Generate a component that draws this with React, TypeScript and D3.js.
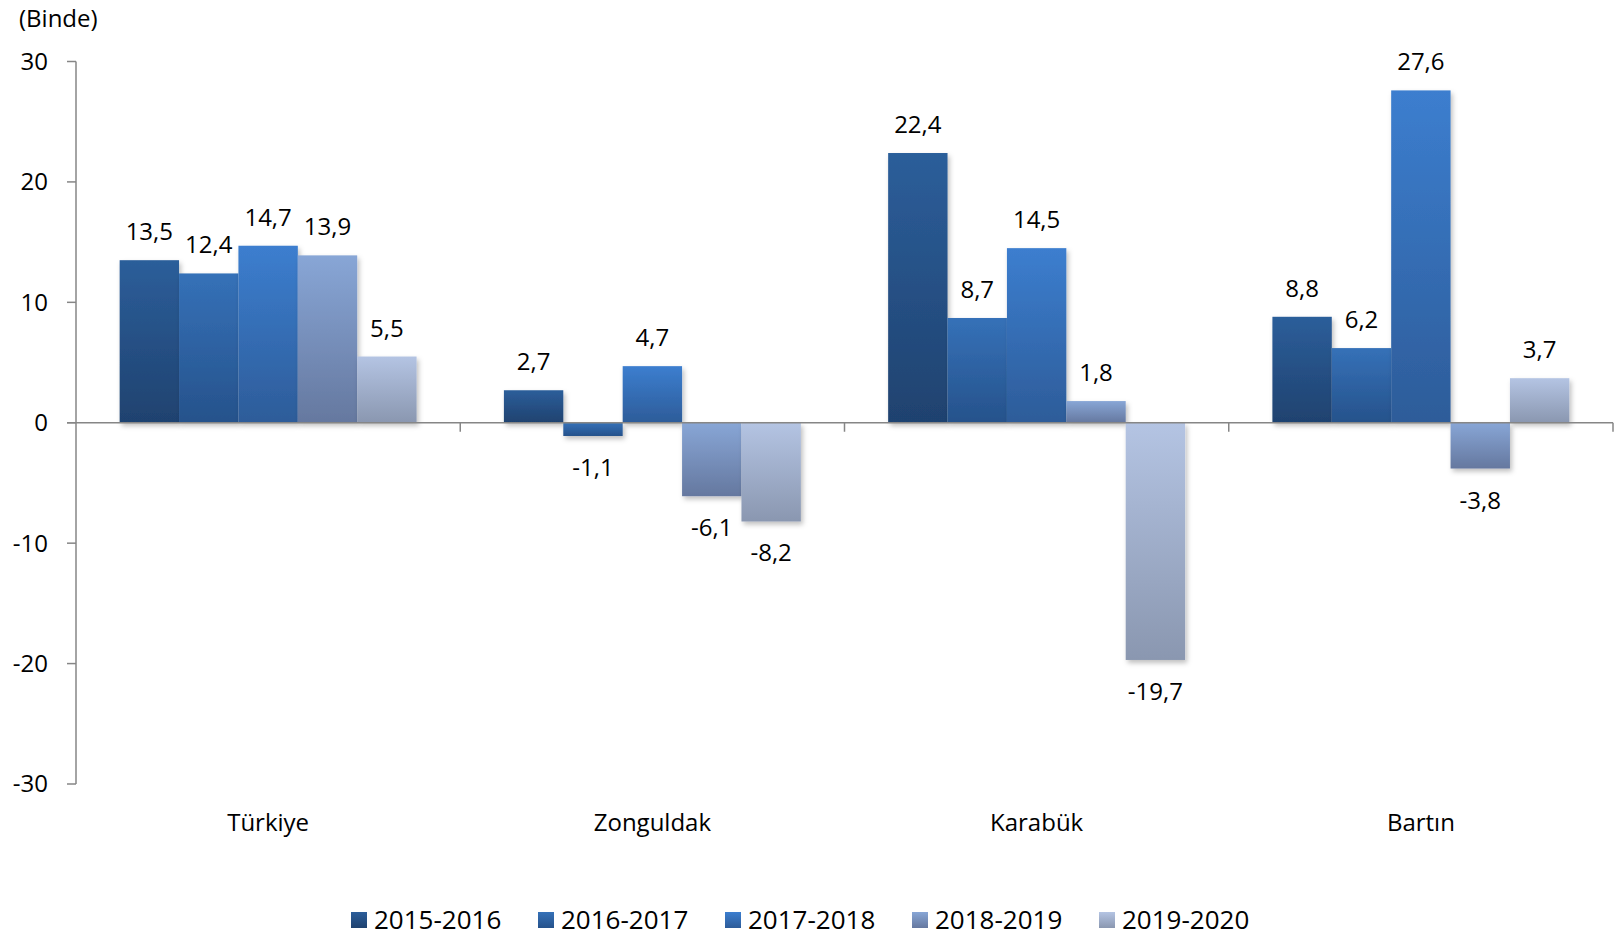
import * as d3 from 'd3'
import { useEffect } from 'react'

const categories = ['Türkiye', 'Zonguldak', 'Karabük', 'Bartın']
const seriesNames = ['2015-2016', '2016-2017', '2017-2018', '2018-2019', '2019-2020']
const v2015 = [13.5, 2.7, 22.4, 8.8]
const v2016 = [12.4, -1.1, 8.7, 6.2]
const v2017 = [14.7, 4.7, 14.5, 27.6]
const v2018 = [13.9, -6.1, 1.8, -3.8]
const v2019 = [5.5, -8.2, -19.7, 3.7]
const yTicks = [-30, -20, -10, 0, 10, 20, 30]

const seriesValues = [v2015, v2016, v2017, v2018, v2019]
// top / bottom colours of each gradient
const grads = [
    ['#2c5e9a', '#1f426f'],
    ['#3571b8', '#26528b'],
    ['#3c7ecf', '#2d5c99'],
    ['#88a6d6', '#65789f'],
    ['#b4c4e3', '#8a97b0'],
]

const W = 1619
const H = 937
const left = 76
const right = 1613
const font = '"Open Sans", "Noto Sans", sans-serif'

const locale = d3.formatLocale({ decimal: ',', thousands: '.', grouping: [3], currency: ['', ''], minus: '-' })
const fmt = locale.format('.1f')

export default function App() {
    useEffect(() => {
        document.body.style.margin = '0'
    }, [])

    const x0 = d3.scaleBand().domain(categories).range([left, right])
    const x1 = d3.scaleBand().domain(seriesNames).range([0, x0.bandwidth()]).paddingInner(0).paddingOuter(0.735)
    const y = d3.scaleLinear().domain([-30, 30]).range([784, 61.5])
    const zero = y(0)

    return (
        <svg width={W} height={H} style={{ display: 'block', fontFamily: font }}>
            <defs>
                {grads.map((g, i) => (
                    <linearGradient key={i} id={'g' + i} x1="0" y1="0" x2="0" y2="1">
                        <stop offset="0" stopColor={g[0]} />
                        <stop offset="1" stopColor={g[1]} />
                    </linearGradient>
                ))}
                <filter id="sh" x="-20%" y="-20%" width="140%" height="140%">
                    <feDropShadow dx="2" dy="3" stdDeviation="2.5" floodColor="#000" floodOpacity="0.25" />
                </filter>
            </defs>

            <text x={19} y={27} fontSize={24} fill="#000">(Binde)</text>

            {/* y axis */}
            <line x1={left} x2={left} y1={y(30)} y2={y(-30)} stroke="#868686" strokeWidth={1.5} />
            {yTicks.map(t => (
                <g key={t}>
                    <line x1={left - 9} x2={left} y1={y(t)} y2={y(t)} stroke="#868686" strokeWidth={1.5} />
                    <text x={48} y={y(t)} dy="0.35em" textAnchor="end" fontSize={24} fill="#000">
                        {locale.format('d')(t)}
                    </text>
                </g>
            ))}

            {/* bars */}
            {seriesValues.map((vals, si) => (
                <g key={si} filter="url(#sh)">
                    {vals.map((v, ci) => {
                        const bx = x0(categories[ci])! + x1(seriesNames[si])!
                        return (
                            <rect key={ci} x={bx} width={x1.bandwidth()}
                                y={Math.min(y(v), zero)} height={Math.abs(y(v) - zero)}
                                fill={`url(#g${si})`} />
                        )
                    })}
                </g>
            ))}

            {/* x axis */}
            <line x1={left - 9} x2={right} y1={zero} y2={zero} stroke="#868686" strokeWidth={1.5} />
            {categories.map(c => (
                <line key={c} x1={x0(c)! + x0.bandwidth()} x2={x0(c)! + x0.bandwidth()} y1={zero} y2={zero + 9}
                    stroke="#868686" strokeWidth={1.5} />
            ))}
            {categories.map(c => (
                <text key={c} x={x0(c)! + x0.bandwidth() / 2} y={831} textAnchor="middle" fontSize={24} fill="#000">{c}</text>
            ))}

            {/* value labels */}
            {seriesValues.map((vals, si) => vals.map((v, ci) => {
                const cx = x0(categories[ci])! + x1(seriesNames[si])! + x1.bandwidth() / 2
                const ly = v >= 0 ? y(v) - 20 : y(v) + 40
                return (
                    <text key={si + '-' + ci} x={cx} y={ly} textAnchor="middle" fontSize={24} fill="#000">{fmt(v)}</text>
                )
            }))}

            {/* legend */}
            {seriesNames.map((s, i) => (
                <g key={s} transform={`translate(${351 + i * 187},0)`}>
                    <rect x={0} y={912} width={16} height={16} fill={`url(#g${i})`} />
                    <text x={23} y={929} fontSize={26} fill="#000">{s}</text>
                </g>
            ))}
        </svg>
    )
}
